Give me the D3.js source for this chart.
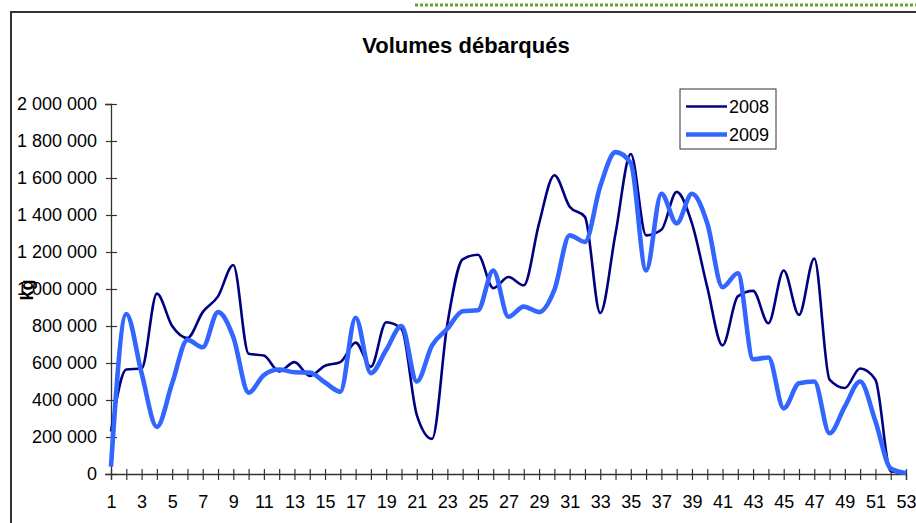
<!DOCTYPE html>
<html>
<head>
<meta charset="utf-8">
<script src="https://cdn.jsdelivr.net/npm/d3@7"></script>
<style>
  body { margin: 0; background: #fff; }
  svg { display: block; font-family: "Liberation Sans", Arial, sans-serif; }
</style>
</head>
<body>
<div id="chart"></div>
<script>
const weeks = [1, 2, 3, 4, 5, 6, 7, 8, 9, 10, 11, 12, 13, 14, 15, 16, 17, 18, 19, 20,
    21, 22, 23, 24, 25, 26, 27, 28, 29, 30, 31, 32, 33, 34, 35, 36, 37, 38, 39, 40,
    41, 42, 43, 44, 45, 46, 47, 48, 49, 50, 51, 52, 53];

const vol2008 = [230000, 565000, 570000, 975000, 800000, 735000, 875000, 960000, 1130000, 650000,
    640000, 555000, 605000, 530000, 585000, 605000, 710000, 580000, 820000, 785000,
    320000, 190000, 810000, 1160000, 1185000, 1005000, 1065000, 1020000, 1355000, 1615000,
    1445000, 1390000, 870000, 1300000, 1730000, 1290000, 1320000, 1525000, 1355000, 1010000,
    695000, 960000, 990000, 815000, 1100000, 860000, 1165000, 510000, 465000, 570000,
    510000, 15000, 5000];

const vol2009 = [40000, 865000, 545000, 255000, 490000, 725000, 685000, 875000, 740000, 440000,
    535000, 565000, 550000, 548000, 495000, 445000, 845000, 545000, 670000, 800000,
    500000, 695000, 785000, 880000, 885000, 1100000, 850000, 905000, 875000, 995000,
    1290000, 1255000, 1555000, 1740000, 1680000, 1100000, 1515000, 1355000, 1515000, 1355000,
    1010000, 1085000, 620000, 630000, 355000, 490000, 500000, 220000, 365000, 500000,
    285000, 30000, 5000];

const seriesNames = ["2008", "2009"];
const yTicks = [0, 200000, 400000, 600000, 800000, 1000000, 1200000, 1400000, 1600000, 1800000, 2000000];

const width = 916;
const height = 523;

const svg = d3.select("#chart")
    .append("svg")
    .attr("width", width)
    .attr("height", height);

// green dotted rule above the frame
svg.append("line")
    .attr("x1", 415).attr("x2", width)
    .attr("y1", 5).attr("y2", 5)
    .attr("stroke", "#64a821")
    .attr("stroke-width", 3)
    .attr("stroke-dasharray", "3,2");

// chart frame
svg.append("rect")
    .attr("x", 11).attr("y", 12)
    .attr("width", width + 20).attr("height", height + 20)
    .attr("fill", "none")
    .attr("stroke", "#333")
    .attr("stroke-width", 2);

svg.append("text")
    .attr("x", 466).attr("y", 53)
    .attr("text-anchor", "middle")
    .attr("font-size", 22)
    .attr("font-weight", "bold")
    .text("Volumes débarqués");

const x = d3.scalePoint()
    .domain(weeks)
    .range([111, 906]);

const y = d3.scaleLinear()
    .domain([0, 2000000])
    .range([474, 104]);

const fr = d3.formatLocale({ decimal: ",", thousands: " ", grouping: [3], currency: ["", ""] });
const fmt = fr.format(",");

const yAxis = svg.append("g")
    .attr("transform", "translate(111,0)")
    .call(d3.axisLeft(y).tickValues(yTicks).tickFormat(fmt).tickSize(6).tickPadding(8));
yAxis.selectAll(".tick line").attr("x2", 6).attr("x1", -5);

const xAxis = svg.append("g")
    .attr("transform", "translate(0,474)")
    .call(d3.axisBottom(x).tickValues(weeks)
        .tickFormat(d => d % 2 === 1 ? d : "")
        .tickSize(6).tickPadding(15));
xAxis.selectAll(".tick line").attr("y1", -5).attr("y2", 6);

[yAxis, xAxis].forEach(a => {
    a.select(".domain").attr("stroke", "#333").attr("stroke-width", 1.3);
    a.selectAll(".tick line").attr("stroke", "#333").attr("stroke-width", 1.2);
    a.selectAll("text").attr("font-size", 18).attr("fill", "#000")
        .attr("font-family", "Liberation Sans, Arial, sans-serif");
});

svg.append("text")
    .attr("transform", "translate(33,290) rotate(-90)")
    .attr("text-anchor", "middle")
    .attr("font-size", 18)
    .attr("font-weight", "bold")
    .text("kg");

const line = d3.line()
    .x((d, i) => x(weeks[i]))
    .y(d => y(d))
    .curve(d3.curveMonotoneX);

const colors = ["#000080", "#3366ff"];
const widths = [2.6, 4.6];

[vol2008, vol2009].forEach((vals, i) => {
    svg.append("path")
        .datum(vals)
        .attr("fill", "none")
        .attr("stroke", colors[i])
        .attr("stroke-width", widths[i])
        .attr("stroke-linejoin", "round")
        .attr("d", line);
});

// legend
const legend = svg.append("g");
legend.append("rect")
    .attr("x", 680).attr("y", 89)
    .attr("width", 96).attr("height", 60)
    .attr("fill", "#fff")
    .attr("stroke", "#333")
    .attr("stroke-width", 1);

seriesNames.forEach((name, i) => {
    const ly = 106.5 + i * 28;
    legend.append("line")
        .attr("x1", 686).attr("x2", 727)
        .attr("y1", ly).attr("y2", ly)
        .attr("stroke", colors[i])
        .attr("stroke-width", widths[i]);
    legend.append("text")
        .attr("x", 729).attr("y", ly)
        .attr("dy", "0.35em")
        .attr("font-size", 18)
        .text(name);
});
</script>
</body>
</html>
